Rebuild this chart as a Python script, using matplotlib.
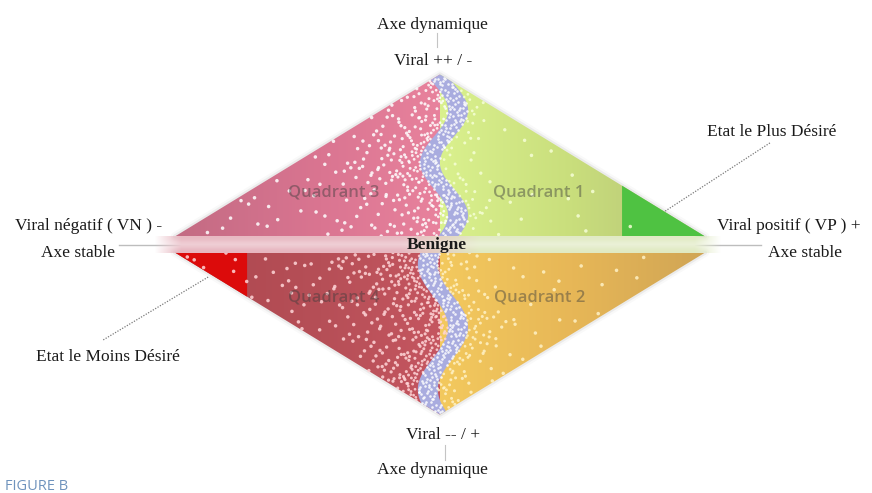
import numpy as np
import matplotlib
matplotlib.use("Agg")
import matplotlib.pyplot as plt
from matplotlib.patches import Polygon
from matplotlib.colors import LinearSegmentedColormap, to_rgb

# ---------------- data ----------------
quadrant_labels = ["Quadrant 1", "Quadrant 2", "Quadrant 3", "Quadrant 4"]
quadrant_signs = [(1, 1), (1, -1), (-1, 1), (-1, -1)]   # (stable axis sign, dynamic axis sign)
dynamic_axis_title = "Axe dynamique"
stable_axis_title = "Axe stable"
dynamic_pos_label = "Viral ++ / -"
dynamic_neg_label = "Viral -- / +"
stable_pos_label = "Viral positif ( VP ) +"
stable_neg_label = "Viral négatif ( VN ) -"
center_label = "Benigne"
best_state_label = "Etat le Plus Désiré"
worst_state_label = "Etat le Moins Désiré"
figure_label = "FIGURE B"
extreme_state_extent = [0.313, 0.272]   # share of the stable half-axis: best (VP side), worst (VN side)

# ---------------- styles ----------------
# colour stops go from the centre of the diamond (0) to its outer corner (1)
quad_colors = {
    "Quadrant 1": [(0.0, "#daf18e"), (0.5, "#c9de7c"), (1.0, "#b4c078")],
    "Quadrant 2": [(0.0, "#f3c95e"), (0.5, "#e7b757"), (1.0, "#d0a555")],
    "Quadrant 3": [(0.0, "#e8829d"), (0.45, "#da7591"), (1.0, "#c36b83")],
    "Quadrant 4": [(0.0, "#c55660"), (0.45, "#b64f57"), (1.0, "#ad474f")],
}
dot_colors = {"Quadrant 1": "#f6ffd6", "Quadrant 2": "#fff2c6",
              "Quadrant 3": "#ffffff", "Quadrant 4": "#ffd6d8"}
best_color = "#4fc242"
worst_color = "#dc0b0b"
wave_color = "#a9acdf"
serif = ["Liberation Serif", "DejaVu Serif"]

G = 0.050          # half thickness of the central band (diagram units)
PXX, PXY = 265.0, 162.0   # pixels per unit (x, y)
W = 10.0 / PXX     # half width of wave band

fig = plt.figure(figsize=(8.72, 4.93), dpi=100)
ax = fig.add_axes([0, 0, 1, 1])
ax.axis("off")

def wave_upper(y):
    return 0.015 + 0.053 * np.sin(2 * np.pi * 1.543 * (0.991 - y))

def wave_lower(y):
    return 0.011 + 0.057 * np.cos(2 * np.pi * 1.296 * (y + 0.509))

def tri(sx, sy):
    if sy > 0:
        return [(0, G), (sx * 1.0, G), (0, G + 1.0)]
    return [(0, -G), (sx * 1.0, -G), (0, -G - 1.0)]

# soft halo around the two triangles
for sy in (1, -1):
    b = G * sy
    pts = [(-1.0, b), (1.0, b), (0, b + sy * 1.0)]
    for lw, a in ((6.0, 0.06), (3.0, 0.14)):
        ax.add_patch(Polygon(pts, closed=True, facecolor="none", edgecolor="#9a9a9a",
                             lw=lw, alpha=a, zorder=1, joinstyle="round"))

# quadrant fills with horizontal gradients (centre -> outer corner)
for name, (sx, sy) in zip(quadrant_labels, quadrant_signs):
    pts = tri(sx, sy)
    patch = Polygon(pts, closed=True, facecolor="none", edgecolor="none",
                    transform=ax.transData)
    ax.add_patch(patch)
    cmap = LinearSegmentedColormap.from_list(name, quad_colors[name])
    arr = np.linspace(0, 1, 256).reshape(1, -1)
    ey = [G, G + 1.0] if sy > 0 else [-G - 1.0, -G]
    if sx > 0:
        im = ax.imshow(arr, cmap=cmap, extent=[0.0, 1.0, ey[0], ey[1]],
                       aspect="auto", origin="lower", interpolation="bilinear", zorder=2)
    else:
        im = ax.imshow(arr[:, ::-1], cmap=cmap, extent=[-1.0, 0.0, ey[0], ey[1]],
                       aspect="auto", origin="lower", interpolation="bilinear", zorder=2)
    im.set_clip_path(patch)

# extreme state corners
best_x0 = 1.0 - extreme_state_extent[0]
ax.add_patch(Polygon([(best_x0, G), (1.0, G), (best_x0, G + 1.0 - best_x0)], closed=True,
                     facecolor=best_color, edgecolor="none", zorder=3))
worst_x0 = -1.0 + extreme_state_extent[1]
ax.add_patch(Polygon([(worst_x0, -G), (-1.0, -G), (worst_x0, -G - (1.0 + worst_x0))], closed=True,
                     facecolor=worst_color, edgecolor="none", zorder=3))

# wavy bands
for sy in (1, -1):
    if sy > 0:
        ys = np.linspace(G, G + 1.0, 300)
        xc = wave_upper(ys)
    else:
        ys = np.linspace(-G - 1.0, -G, 300)
        xc = wave_lower(ys)
    poly = np.r_[np.c_[xc - W, ys], np.c_[xc + W, ys][::-1]]
    b = G * sy
    clip = Polygon([(-1.0, b), (1.0, b), (0, b + sy * 1.0)], closed=True,
                   facecolor="none", edgecolor="none", transform=ax.transData)
    ax.add_patch(clip)
    wp = Polygon(poly, closed=True, facecolor=wave_color, edgecolor="none", zorder=4)
    ax.add_patch(wp)
    wp.set_clip_path(clip)

# speckle texture (deterministic low-discrepancy sequence)
def halton(n, base):
    idx = np.arange(1, n + 1)
    res = np.zeros(n)
    f = 1.0 / base
    while np.any(idx > 0):
        res += f * (idx % base)
        idx //= base
        f /= base
    return res

N = 60000
u1, u2, u3 = halton(N, 2), halton(N, 3), halton(N, 5)
cx = -1.0 + 2.0 * u1
cy = -(G + 1.0) + 2.0 * (G + 1.0) * u2
cand_density = N / (2 * PXX * 2 * (G + 1.0) * PXY)
upper = (cy > G) & (np.abs(cx) <= 1.0 - (cy - G))
lower = (cy < -G) & (np.abs(cx) <= 1.0 - (-G - cy))
wc = np.where(cy > 0, wave_upper(cy), wave_lower(cy))
dpx = np.abs(cx - wc) * PXX - 10.0
inband = dpx <= 0
d = np.clip(dpx, 0, None)
params = {"Quadrant 1": (0.0010, 0.022, 14), "Quadrant 2": (0.0014, 0.040, 18),
          "Quadrant 3": (0.0030, 0.050, 30), "Quadrant 4": (0.0030, 0.060, 35)}
for name, (sx, sy) in zip(quadrant_labels, quadrant_signs):
    reg = (upper if sy > 0 else lower) & (np.sign(cx - wc) == sx) & ~inband
    base, peak, sc = params[name]
    dens = base + peak * np.exp(-d / sc)
    keep = reg & (u3 < dens / cand_density)
    sizes = 6.5 - 3.0 * np.exp(-d[keep] / 30.0)
    ax.scatter(cx[keep], cy[keep], s=sizes, c=dot_colors[name], alpha=0.85,
               linewidths=0, zorder=5)
keep = (upper | lower) & inband & (u3 < 0.06 / cand_density)
ax.scatter(cx[keep], cy[keep], s=3.5, c="#ffffff", alpha=0.85, linewidths=0, zorder=5)

# central band (stable axis)
bw = 300
xs_b = np.linspace(-1.08, 1.06, bw)
left_c = np.array(to_rgb("#e6b3bd"))
right_c = np.array(to_rgb("#dfe9c0"))
t = np.clip((xs_b + 0.15) / 0.3, 0, 1)[None, :, None]
col = left_c * (1 - t) + right_c * t
prof = np.array([0.04, 0.10, 0.25, 0.35, 0.28, 0.14, 0.08])[:, None, None]
img = col * (1 - prof) + prof
alpha = np.clip(np.minimum((xs_b + 1.08) / 0.10, (1.06 - xs_b) / 0.10), 0, 1)
rgba = np.dstack([img, np.broadcast_to(alpha[None, :], img.shape[:2])])
ax.imshow(rgba, extent=[-1.08, 1.06, -G, G], aspect="auto", origin="lower",
          interpolation="bilinear", zorder=6)
ax.plot([-1.21, 1.21], [0, 0], color="#bdbdbd", lw=1.0, zorder=0.5)

# dynamic axis short ticks
ax.plot([-0.011, -0.011], [1.219, 1.306], color="#c4c4c4", lw=0.8, zorder=0.5)
ax.plot([0.02, 0.02], [-1.238, -1.330], color="#c4c4c4", lw=0.8, zorder=0.5)

# leader lines
ax.plot([1.245, 0.845], [0.627, 0.201], color="#7a7a7a", lw=0.9, ls=(0, (1, 1.2)), zorder=7)
ax.plot([-0.875, -1.272], [-0.201, -0.590], color="#7a7a7a", lw=0.9, ls=(0, (1, 1.2)), zorder=7)

# texts
tk = dict(family=serif, fontsize=12.5, color="#1a1a1a", ha="center", va="center", zorder=8)
ax.text(-0.030, 1.355, dynamic_axis_title, **tk)
ax.text(-0.026, 1.133, dynamic_pos_label, **tk)
ax.text(0.011, -1.176, dynamic_neg_label, **tk)
ax.text(-0.030, -1.392, dynamic_axis_title, **tk)
ax.text(1.317, 0.114, stable_pos_label, **tk)
ax.text(1.377, -0.052, stable_axis_title, **tk)
ax.text(-1.328, 0.114, stable_neg_label, **tk)
ax.text(-1.366, -0.052, stable_axis_title, **tk)
ax.text(1.253, 0.694, best_state_label, **tk)
ax.text(-1.253, -0.694, worst_state_label, **tk)
ax.text(-0.011, -0.003, center_label, **{**tk, "fontweight": "bold"})

qpos = {"Quadrant 1": (0.374, 0.324), "Quadrant 2": (0.377, -0.330),
        "Quadrant 3": (-0.400, 0.324), "Quadrant 4": (-0.400, -0.330)}
for name in quadrant_labels:
    ax.text(*qpos[name], name, family=["Open Sans", "DejaVu Sans"], fontsize=12,
            fontweight="semibold", color="#3c3c3c", alpha=0.45, ha="center", va="center", zorder=8)

fig.text(5 / 872, 1 - 486 / 493, figure_label, family=["Open Sans", "DejaVu Sans"],
         fontsize=10.5, color="#6f93bd", ha="left", va="center")

ax.set_xlim(-440 / PXX, 432 / PXX)
ax.set_ylim(-(493 - 244.5) / PXY, 244.5 / PXY)
fig.savefig("out.png", dpi=100)
